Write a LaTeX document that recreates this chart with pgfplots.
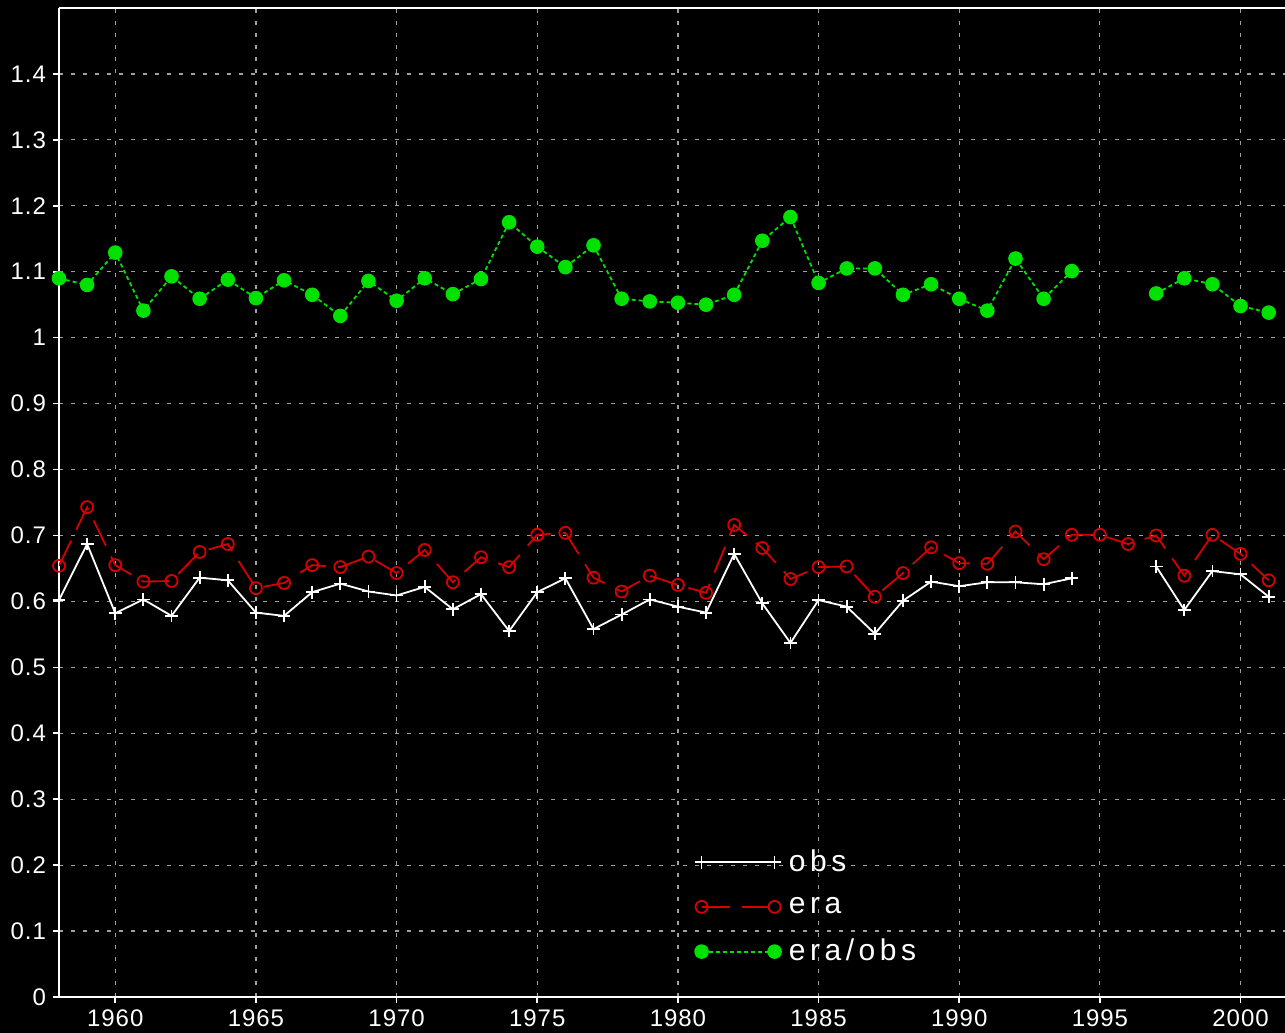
\documentclass[border=0pt]{standalone}
\usepackage{fontspec}
\setmainfont{Liberation Sans}
\usepackage{pgfplots}
\usepackage{pgfplotstable}
\pgfplotsset{compat=1.18}

\definecolor{gridgray}{RGB}{160,160,160}
\definecolor{ratiogreen}{RGB}{0,225,0}
\definecolor{erared}{RGB}{215,0,0}

% Annual values: station observations, ERA reanalysis and their ratio
\pgfplotstableread{
year obs   era   ratio
1958 0.602 0.654 1.090
1959 0.687 0.743 1.080
1960 0.582 0.655 1.129
1961 0.603 0.630 1.041
1962 0.578 0.631 1.093
1963 0.636 0.675 1.059
1964 0.632 0.687 1.088
1965 0.583 0.620 1.060
1966 0.578 0.628 1.087
1967 0.614 0.655 1.065
1968 0.627 0.652 1.033
1969 0.615 0.668 1.086
1970 0.609 0.643 1.056
1971 0.622 0.678 1.090
1972 0.588 0.629 1.066
1973 0.611 0.667 1.089
1974 0.555 0.652 1.175
1975 0.614 0.701 1.138
1976 0.635 0.704 1.107
1977 0.558 0.636 1.140
1978 0.580 0.615 1.059
1979 0.603 0.639 1.055
1980 0.592 0.625 1.053
1981 0.583 0.613 1.050
1982 0.672 0.716 1.065
1983 0.597 0.681 1.147
1984 0.537 0.634 1.183
1985 0.602 0.652 1.083
1986 0.592 0.653 1.105
1987 0.551 0.607 1.105
1988 0.601 0.643 1.065
1989 0.630 0.682 1.081
1990 0.623 0.658 1.059
1991 0.629 0.657 1.041
1992 0.629 0.706 1.120
1993 0.626 0.664 1.059
1994 0.635 0.701 1.101
1995 nan   0.701 nan
1996 nan   0.687 nan
1997 0.653 0.700 1.067
1998 0.587 0.639 1.090
1999 0.646 0.701 1.081
2000 0.641 0.672 1.048
2001 0.607 0.632 1.038
}\yearly

\begin{document}
\begin{tikzpicture}
\fill[black] (-29.5pt,-18pt) rectangle (613pt,498.5pt);
\begin{axis}[
  at={(0pt,0pt)}, anchor=south west,
  scale only axis, width=613pt, height=494.5pt,
  xmin=1958, xmax=2001.58, ymin=0, ymax=1.5,
  axis x line*=box, axis y line*=left,
  axis line style={white, line width=1.3pt},
  xtick={1960,1965,...,2000},
  ytick={0,0.1,...,1.41},
  tick pos=left, tick align=outside,
  major tick length=3pt,
  tick style={white, line width=0.8pt},
  grid=major,
  major grid style={gridgray, line width=0.6pt, dash pattern=on 1.8pt off 4.2pt},
  ticklabel style={white, font=\fontsize{12}{14}\selectfont\addfontfeature{LetterSpace=4}},
  /pgf/number format/assume math mode=true,
  xticklabel style={/pgf/number format/1000 sep={}},
  yticklabel style={/pgf/number format/fixed, /pgf/number format/precision=1},
  unbounded coords=jump,
  legend image code/.code={%
    \draw[mark repeat=1,#1] plot coordinates {(0pt,0pt) (36.5pt,0pt)};},
  legend style={draw=none, fill=none, text=white,
    font=\fontsize{15}{17}\selectfont\addfontfeature{LetterSpace=15},
    at={(axis cs:1980.6,0.230)}, anchor=north west,
    row sep=7.4pt, inner sep=0pt,
    nodes={inner xsep=4pt}},
  legend cell align=left,
]
\addplot[white, line width=0.9pt, mark=+, mark size=3.2pt,
  mark options={solid, line width=0.9pt}]
  table[x=year, y=obs] \yearly;
\addlegendentry{obs}
\addplot[erared, line width=0.9pt, dash pattern=on 14pt off 6pt,
  mark=o, mark size=3pt, mark options={solid, fill=black, line width=0.9pt}]
  table[x=year, y=era] \yearly;
\addlegendentry{era}
\addplot[ratiogreen, line width=0.9pt, dash pattern=on 2pt off 1.5pt,
  mark=*, mark size=3.2pt, mark options={solid, fill=ratiogreen}]
  table[x=year, y=ratio] \yearly;
\addlegendentry{era/obs}
\end{axis}
\pgfresetboundingbox
\path[use as bounding box] (-29.5pt,-18pt) rectangle (613pt,498.5pt);
\end{tikzpicture}
\end{document}
